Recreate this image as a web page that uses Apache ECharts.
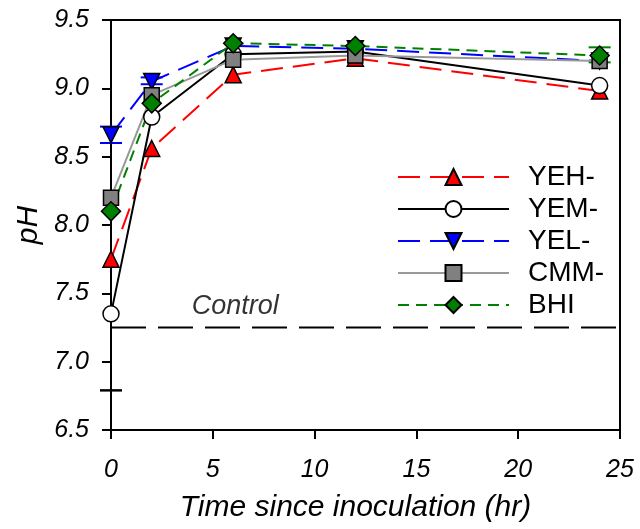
<!DOCTYPE html>
<html><head><meta charset="utf-8">
<script src="https://cdn.jsdelivr.net/npm/echarts@6/dist/echarts.min.js"></script>
<style>html,body{margin:0;padding:0;background:#fff}#c{width:640px;height:529px}</style>
</head><body><div id="c"></div>
<script>
var times = [0, 2, 6, 12, 24];
var YEH = [7.75, 8.56, 9.10, 9.22, 8.98];
var YEM = [7.35, 8.79, 9.25, 9.27, 9.02];
var YEL = [8.66, 9.05, 9.31, 9.29, 9.20];
var CMM = [8.20, 8.95, 9.21, 9.24, 9.20];
var BHI = [8.10, 8.89, 9.33, 9.31, 9.24];
var controlPH = 7.25;
var controlLabelX = 6.1;
var xTicks = [0, 5, 10, 15, 20, 25];
var yTicks = [6.5, 7.0, 7.5, 8.0, 8.5, 9.0, 9.5];
// error bars: [x, low, high]
var errBars = [[0, 8.60, 8.72], [2, 9.03, 9.08], [24, 9.19, 9.30], [0, 6.79, 6.79]];
var errColors = ['#0000ff', '#0000ff', '#008000', '#000000'];

function pts(v){ return times.map(function(t,i){return [t, v[i]];}); }
var font = 'Liberation Sans, Arial, sans-serif';
var chart = echarts.init(document.getElementById('c'));
function S(name, data, sym, col, fill, dash, size){
  return {type:'line', name:name, data:pts(data), symbol:sym, symbolSize:size||16, z:3,
    lineStyle:{color:col, width:2, type:dash},
    itemStyle:{color:fill, borderColor:'#000', borderWidth:1.5}};
}
chart.setOption({
  animation:false,
  grid:{left:111, right:20, top:20, bottom:99, show:true, borderColor:'#000', borderWidth:2, backgroundColor:'transparent'},
  xAxis:{type:'value', min:0, max:25, interval:5,
    axisLine:{lineStyle:{color:'#000', width:2}},
    axisTick:{show:true, length:9, lineStyle:{color:'#000', width:2}},
    axisLabel:{color:'#000', fontSize:25, fontStyle:'italic', fontFamily:font, margin:28},
    splitLine:{show:false},
    name:'Time since inoculation (hr)', nameLocation:'middle', nameGap:63,
    nameTextStyle:{color:'#000', fontSize:30, fontStyle:'italic', fontFamily:font, padding:[0,20,0,0]}},
  yAxis:{type:'value', min:6.5, max:9.5, interval:0.5,
    axisLine:{show:true, lineStyle:{color:'#000', width:2}},
    axisTick:{show:true, length:9, lineStyle:{color:'#000', width:2}},
    axisLabel:{color:'#000', fontSize:25, fontStyle:'italic', fontFamily:font, margin:22,
      formatter:function(v){return v.toFixed(1);}},
    splitLine:{show:false},
    name:'pH', nameLocation:'middle', nameGap:64,
    nameTextStyle:{color:'#000', fontSize:30, fontStyle:'italic', fontFamily:font}},
  legend:{left:392, top:158, orient:'vertical', itemWidth:111, itemHeight:20, itemGap:4,
    data:['YEH-','YEM-','YEL-','CMM-','BHI'],
    textStyle:{color:'#000', fontSize:28, lineHeight:28, fontFamily:font, padding:[0,0,0,14]}},
  series:[
    {name:'Control', type:'line', data:[[0, controlPH],[25, controlPH]], symbol:'none', z:1,
      lineStyle:{color:'#000', width:2, type:[35,12]}, silent:true},
    {name:'ControlLabel', type:'scatter', data:[[controlLabelX, controlPH]], symbolSize:0, z:1,
      label:{show:true, formatter:'Control', position:'top', distance:8, color:'#000', fontSize:27, fontStyle:'italic', fontFamily:font}},
    {name:'err', type:'custom', z:2, data:errBars,
      renderItem:function(params, api){
        var x = api.value(0), lo = api.value(1), hi = api.value(2);
        var col = errColors[params.dataIndex];
        var a = api.coord([x, lo]), b = api.coord([x, hi]);
        var w = 11;
        return {type:'group', children:[
          {type:'line', shape:{x1:a[0], y1:a[1], x2:b[0], y2:b[1]}, style:{stroke:col, lineWidth:2}},
          {type:'line', shape:{x1:a[0]-w, y1:a[1], x2:a[0]+w, y2:a[1]}, style:{stroke:col, lineWidth:2}},
          {type:'line', shape:{x1:b[0]-w, y1:b[1], x2:b[0]+w, y2:b[1]}, style:{stroke:col, lineWidth:2}}
        ]};
      }},
    S('YEH-', YEH, 'triangle', '#ff0000', '#ff0000', [22,10]),
    S('YEM-', YEM, 'circle', '#000000', '#ffffff', 'solid'),
    S('YEL-', YEL, 'path://M0,0 L10,0 L5,9 Z', '#0000ff', '#0000ff', [22,10]),
    S('CMM-', CMM, 'rect', '#999999', '#808080', 'solid', 15),
    S('BHI', BHI, 'diamond', '#008000', '#008000', [11,7], 19)
  ]
});
</script></body></html>
